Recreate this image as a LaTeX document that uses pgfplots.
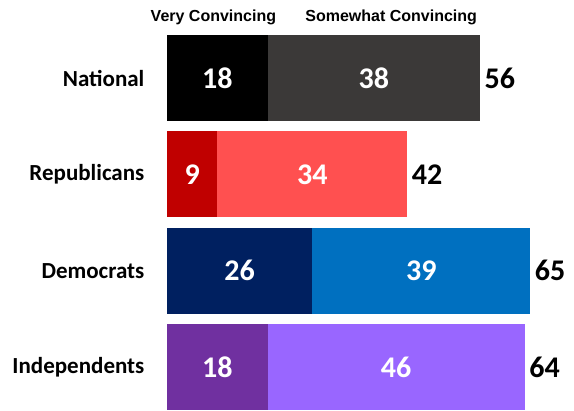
\documentclass[border=0pt]{standalone}
\usepackage{pgfplots}
\pgfplotsset{compat=1.18}
\usepackage{fontspec}
\setmainfont{Carlito}
\newfontfamily\hdr{Liberation Sans}
\definecolor{natV}{HTML}{000000}
\definecolor{natS}{HTML}{3B3938}
\definecolor{repV}{HTML}{C00000}
\definecolor{repS}{HTML}{FF5050}
\definecolor{demV}{HTML}{002060}
\definecolor{demS}{HTML}{0070C0}
\definecolor{indV}{HTML}{7030A0}
\definecolor{indS}{HTML}{9966FF}
\pgfplotsset{frame/.style={
  at={(167pt,0pt)}, anchor=south west,
  scale only axis, width=402.5pt, height=411pt,
  xmin=0, xmax=72, ymin=-0.457, ymax=3.811, clip=false}}
\begin{document}
\begin{tikzpicture}[x=1pt,y=1pt]
\useasboundingbox (0,0) rectangle (574,411);
\begin{axis}[
  frame,
  xbar stacked, bar width=0.893,
  axis x line=none, axis y line=left,
  y axis line style={draw=none}, ytick style={draw=none},
  ytick={0,1,2,3},
  yticklabels={Independents,Democrats,Republicans,National},
  yticklabel style={font=\bfseries\fontsize{23}{26}\selectfont, xshift=-17pt},
  /pgf/number format/assume math mode=true,
  nodes near coords={\pgfmathfloatifflags{\pgfplotspointmeta}{0}{}{\pgfmathprintnumber{\pgfplotspointmeta}}},
  every node near coord/.append style={font=\bfseries\fontsize{30}{32}\selectfont, text=white},
]
\addplot[fill=natV, draw=none] coordinates {(18,3) (0,2) (0,1) (0,0)};
\addplot[fill=natS, draw=none] coordinates {(38,3) (0,2) (0,1) (0,0)};
\addplot[fill=repV, draw=none] coordinates {(0,3) (9,2) (0,1) (0,0)};
\addplot[fill=repS, draw=none] coordinates {(0,3) (34,2) (0,1) (0,0)};
\addplot[fill=demV, draw=none] coordinates {(0,3) (0,2) (26,1) (0,0)};
\addplot[fill=demS, draw=none] coordinates {(0,3) (0,2) (39,1) (0,0)};
\addplot[fill=indV, draw=none] coordinates {(0,3) (0,2) (0,1) (18,0)};
\addplot[fill=indS, draw=none] coordinates {(0,3) (0,2) (0,1) (46,0)};
\node[font=\hdr\bfseries\fontsize{16}{18}\selectfont] at (axis cs:8.3,3.634) {Very Convincing};
\node[font=\hdr\bfseries\fontsize{16}{18}\selectfont] at (axis cs:40.1,3.634) {Somewhat Convincing};
\end{axis}
\begin{axis}[frame, hide axis]
\addplot[only marks, mark=none, point meta=explicit symbolic,
  nodes near coords={\pgfplotspointmeta},
  every node near coord/.append style={font=\bfseries\fontsize{30}{32}\selectfont, text=black, anchor=west, xshift=1pt}]
  coordinates {(56,3) [56] (43,2) [42] (65,1) [65] (64,0) [64]};
\end{axis}
\end{tikzpicture}
\end{document}
